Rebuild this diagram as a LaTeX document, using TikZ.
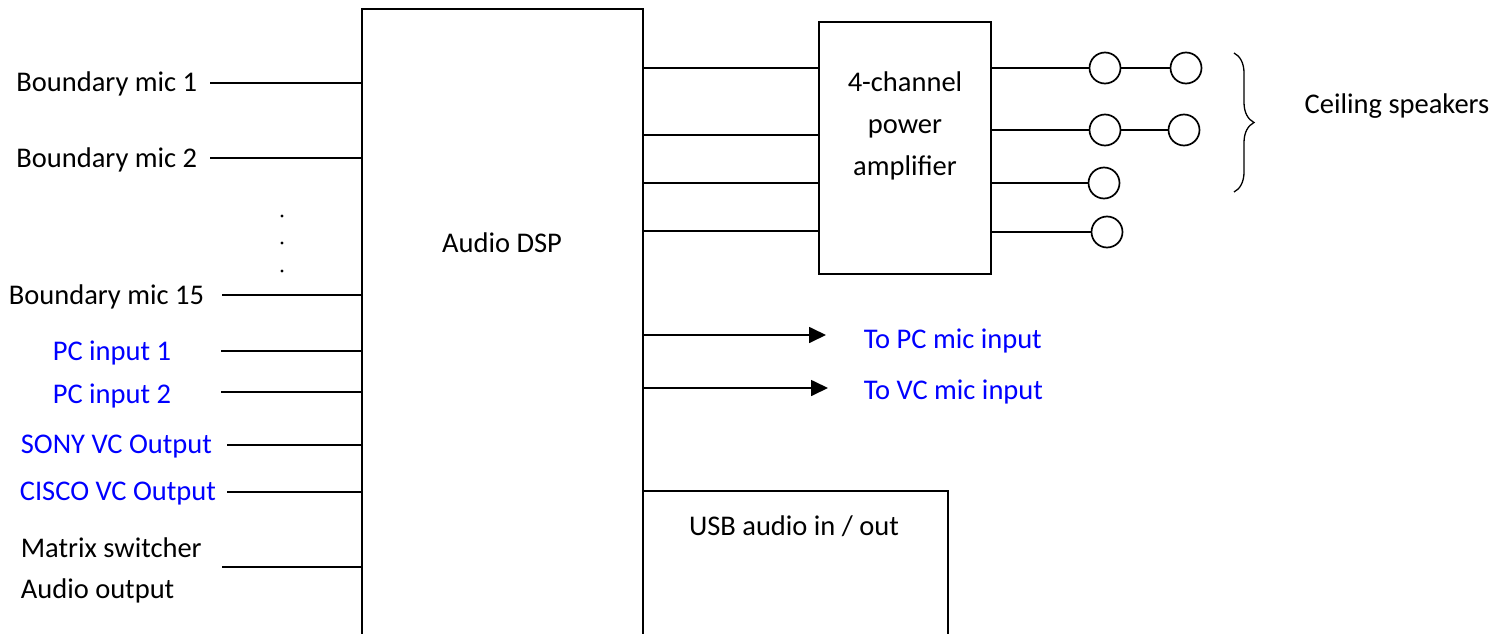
\documentclass[tikz,border=0pt]{standalone}
\usepackage{fontspec}
\setmainfont{Carlito}
\usetikzlibrary{decorations.pathreplacing,arrows.meta}
\definecolor{diagblue}{RGB}{0,0,255}
\begin{document}
\begin{tikzpicture}[x=1pt,y=-1pt, line width=1.7pt,
  lbl/.style={inner sep=0pt, font=\fontsize{28.5}{34}\selectfont},
  bluelbl/.style={lbl, text=diagblue},
  boxnode/.style={draw, inner sep=0pt, outer sep=0pt, anchor=north west},
  spk/.style={draw, circle, minimum size=31pt, inner sep=0pt, outer sep=0pt},
  dotnode/.style={fill, circle, minimum size=3.4pt, inner sep=0pt},
  arr/.style={-{Triangle[length=17pt,width=16pt]}}]
\useasboundingbox (0,0) rectangle (1512,634);
% boxes
\node[boxnode, minimum width=281pt, minimum height=700pt] (dsp) at (362,9) {};
\node[lbl, anchor=base] (dsptxt) at (502,252) {Audio DSP};
\node[boxnode, minimum width=172pt, minimum height=252pt] (amp) at (819,22) {};
\node[lbl, anchor=base] (amp1) at (905,92) {4-channel};
\node[lbl, anchor=base] (amp2) at (905,133) {power};
\node[lbl, anchor=base] (amp3) at (905,175) {amplifier};
\node[boxnode, minimum width=305pt, minimum height=200pt] (usb) at (643,491) {};
\node[lbl, anchor=base] (usbtxt) at (794,535) {USB audio in / out};
% left inputs
\node[lbl, anchor=base east] (lm1) at (198,92) {Boundary mic 1};
\coordinate (m1) at (210,83); \draw (m1) -- (m1 -| dsp.west);
\node[lbl, anchor=base east] (lm2) at (198,167) {Boundary mic 2};
\coordinate (m2) at (210,158); \draw (m2) -- (m2 -| dsp.west);
\node[dotnode] (d1) at (282,216) {};
\node[dotnode] (d2) at (282,243) {};
\node[dotnode] (d3) at (282,271) {};
\node[lbl, anchor=base west] (lm15) at (8,304) {Boundary mic 15};
\coordinate (m15) at (222,295); \draw (m15) -- (m15 -| dsp.west);
\node[bluelbl, anchor=base west] (lpc1) at (52,360) {PC input 1};
\coordinate (pc1) at (221,351); \draw (pc1) -- (pc1 -| dsp.west);
\node[bluelbl, anchor=base west] (lpc2) at (52,403) {PC input 2};
\coordinate (pc2) at (221,392); \draw (pc2) -- (pc2 -| dsp.west);
\node[bluelbl, anchor=base west] (lsony) at (20,453) {SONY VC Output};
\coordinate (sony) at (227,445); \draw (sony) -- (sony -| dsp.west);
\node[bluelbl, anchor=base west] (lcisco) at (19,500) {CISCO VC Output};
\coordinate (cisco) at (227,492); \draw (cisco) -- (cisco -| dsp.west);
\node[lbl, anchor=base west] (lmx1) at (20,557) {Matrix switcher};
\node[lbl, anchor=base west] (lmx2) at (20,598) {Audio output};
\coordinate (mx) at (222,567); \draw (mx) -- (mx -| dsp.west);
% DSP to amplifier
\coordinate (a1) at (643,68);  \draw (a1) -- (a1 -| amp.west);
\coordinate (a2) at (643,135); \draw (a2) -- (a2 -| amp.west);
\coordinate (a3) at (643,183); \draw (a3) -- (a3 -| amp.west);
\coordinate (a4) at (643,231); \draw (a4) -- (a4 -| amp.west);
% speakers
\node[spk] (s1a) at (1105,68) {};
\node[spk] (s1b) at (1186,68) {};
\node[spk] (s2a) at (1105,130) {};
\node[spk] (s2b) at (1184,130) {};
\node[spk] (s3a) at (1104,183) {};
\node[spk] (s4a) at (1107,232) {};
\draw (amp.east |- s1a) -- (s1a);
\draw (amp.east |- s2a) -- (s2a);
\draw (amp.east |- s3a) -- (s3a);
\draw (amp.east |- s4a) -- (s4a);
\draw (s1a) -- (s1b);
\draw (s2a) -- (s2b);
% brace
\coordinate (bt) at (1234,53);
\coordinate (bb) at (1234,192);
\draw[line width=1.3pt, decorate, decoration={brace, amplitude=20pt}] (bt) -- (bb);
\node[lbl, anchor=base] (ceil) at (1397,113) {Ceiling speakers};
% outputs
\coordinate (t1) at (826,335); \draw[arr] (t1 -| dsp.east) -- (t1);
\coordinate (t2) at (828,388); \draw[arr] (t2 -| dsp.east) -- (t2);
\node[bluelbl, anchor=base west] (ltpc) at (863,348) {To PC mic input};
\node[bluelbl, anchor=base west] (ltvc) at (863,399) {To VC mic input};
\end{tikzpicture}
\end{document}
